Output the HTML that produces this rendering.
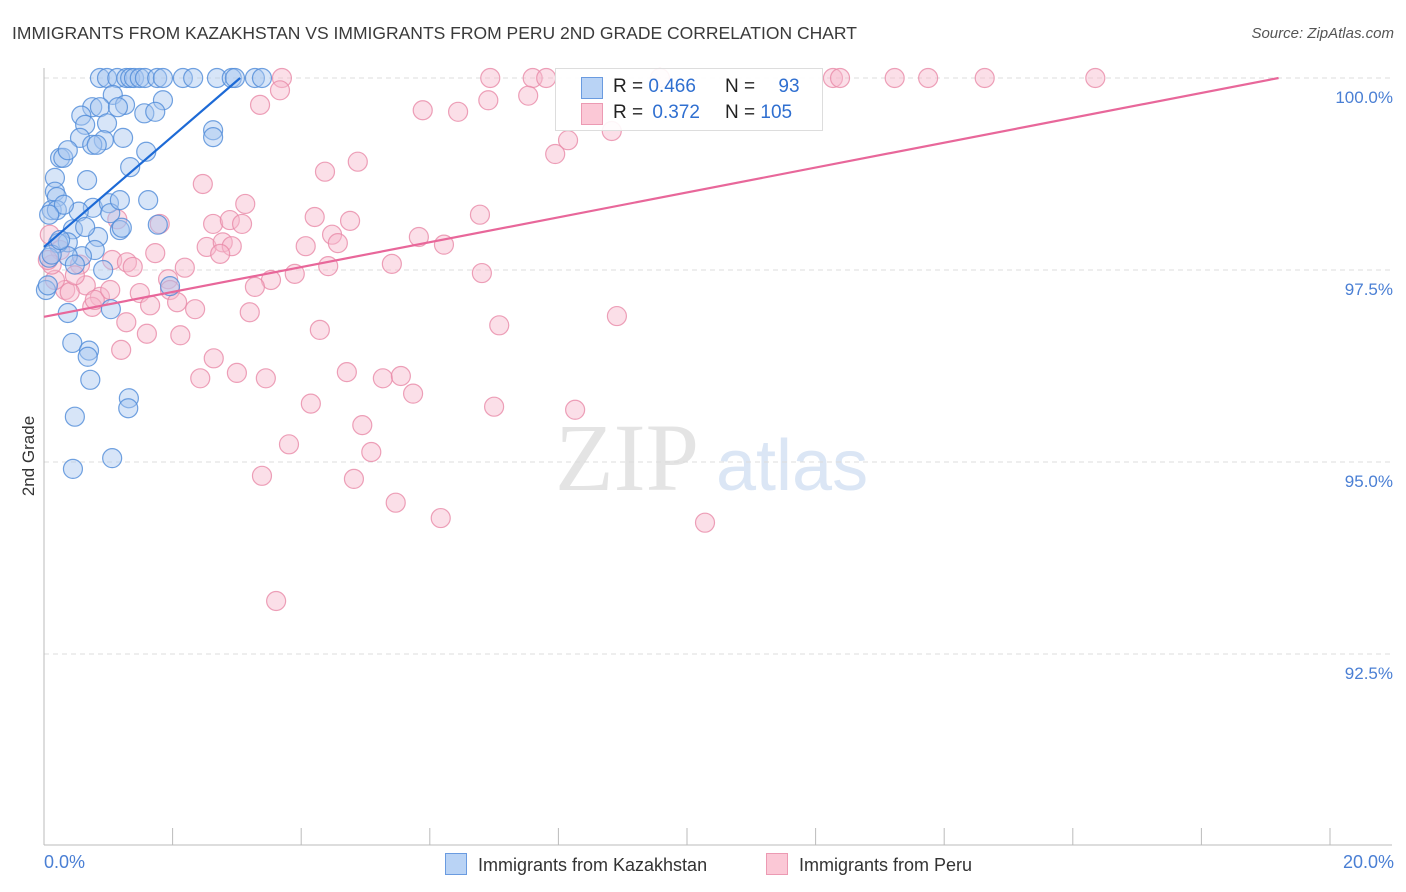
<!DOCTYPE html>
<html><head><meta charset="utf-8">
<style>
body{margin:0;background:#fff;font-family:"Liberation Sans",sans-serif;}
#wrap{position:relative;width:1406px;height:892px;overflow:hidden;}
.t{position:absolute;white-space:nowrap;}
</style></head>
<body>
<div id="wrap">
<div class="t" style="left:12px;top:23px;font-size:17.5px;color:#3a3a3a;">IMMIGRANTS FROM KAZAKHSTAN VS IMMIGRANTS FROM PERU 2ND GRADE CORRELATION CHART</div>
<div class="t" style="right:12px;top:25px;font-size:15px;color:#555;font-style:italic;">Source: ZipAtlas.com</div>
<svg id="svg" width="1406" height="892" style="position:absolute;left:0;top:0"></svg>
</div>
<script>
const xDomain=[0,20];
const yDomain=[90,100];
const yTicks=[100,97.5,95,92.5];
const yTickLabels=["100.0%","97.5%","95.0%","92.5%"];
const xTickCount=10;
const kazX=[0.87,0.98,1.14,1.28,1.34,1.40,1.49,1.57,1.76,1.85,2.16,2.32,2.69,2.92,3.28,3.39,1.07,0.75,0.87,1.26,1.15,1.85,0.58,1.56,1.73,0.64,0.98,0.56,0.93,1.23,0.75,0.82,0.25,0.30,0.37,1.59,1.34,0.67,0.17,0.17,0.20,0.76,1.62,1.01,0.54,0.12,0.20,0.31,1.03,1.18,1.21,0.84,0.45,0.64,0.37,0.22,0.79,0.59,0.37,0.08,0.12,0.48,0.92,1.04,0.37,0.44,0.70,0.68,0.72,1.32,1.31,0.48,0.45,1.06,2.63,2.63,1.77,0.03,0.06,0.08,1.96,2.97,0.25,1.18];
const kazY=[100,100,100,100,100,100,100,100,100,100,100,100,100,100,100,100,99.78,99.62,99.62,99.65,99.62,99.71,99.51,99.54,99.56,99.39,99.41,99.22,99.19,99.22,99.13,99.13,98.96,98.96,99.06,99.04,98.84,98.67,98.70,98.52,98.45,98.31,98.41,98.37,98.26,98.28,98.28,98.35,98.24,98.02,98.05,97.93,98.03,98.06,97.86,97.85,97.76,97.68,97.68,97.66,97.70,97.57,97.50,96.99,96.94,96.55,96.45,96.37,96.07,95.83,95.70,95.59,94.91,95.05,99.32,99.23,98.09,97.24,97.30,98.22,97.29,100,97.89,98.41];
const peruX=[3.70,6.94,7.60,7.81,9.58,12.27,12.38,13.23,13.75,14.63,16.35,3.67,3.36,6.91,7.53,5.89,6.44,8.83,8.15,7.95,4.88,4.37,2.47,3.13,6.78,4.21,4.76,2.63,2.89,3.08,1.80,1.14,4.48,5.83,6.22,4.07,4.57,2.53,2.78,2.92,2.74,1.73,1.06,1.29,1.38,2.19,3.53,3.90,5.41,4.42,6.81,3.28,1.93,1.96,1.49,0.65,0.33,0.40,0.87,0.75,2.35,3.20,1.65,2.07,1.28,1.60,2.12,4.29,7.08,8.91,1.20,2.64,3.00,2.43,3.45,4.71,5.27,5.55,5.74,4.15,7.00,8.26,4.95,3.81,5.09,3.39,4.82,5.47,6.17,10.28,3.61,0.09,0.25,0.56,0.17,0.48,0.12,0.06,0.79,1.03];
const peruY=[100,100,100,100,100,100,100,100,100,100,100,99.84,99.65,99.71,99.77,99.58,99.56,99.31,99.19,99.01,98.91,98.78,98.62,98.36,98.22,98.19,98.14,98.10,98.15,98.10,98.10,98.16,97.96,97.93,97.83,97.81,97.85,97.80,97.86,97.81,97.71,97.72,97.63,97.60,97.54,97.53,97.37,97.45,97.58,97.55,97.46,97.28,97.38,97.24,97.20,97.30,97.24,97.21,97.15,97.02,96.99,96.95,97.04,97.08,96.82,96.67,96.65,96.72,96.78,96.90,96.46,96.35,96.16,96.09,96.09,96.17,96.09,96.12,95.89,95.76,95.72,95.68,95.48,95.23,95.13,94.82,94.78,94.47,94.27,94.21,93.19,97.96,97.76,97.57,97.37,97.43,97.57,97.63,97.11,97.24];
const kazLine=[[0,97.8],[3.05,100]];
const peruLine=[[0,96.89],[19.2,100]];

const NS="http://www.w3.org/2000/svg";
const svg=document.getElementById('svg');
const X0=44,X1=1330,YTOP=78,YPX=76.8;
function sx(v){return X0+(v-xDomain[0])/(xDomain[1]-xDomain[0])*(X1-X0);}
function sy(v){return YTOP+(yDomain[1]-v)*YPX;}
function mk(tag,attrs){const e=document.createElementNS(NS,tag);for(const k in attrs)e.setAttribute(k,attrs[k]);svg.appendChild(e);return e;}

// watermark
let wm=mk('text',{x:555,y:490,'font-size':96,'font-family':'Liberation Serif, serif',fill:'#e4e4e4'});wm.textContent='ZIP';


let wm2=mk('text',{x:716,y:490,'font-size':72,'font-family':'Liberation Sans, sans-serif',fill:'#dbe6f5'});wm2.textContent='atlas';



yTicks.forEach((v,i)=>{
  const g=mk('line',{x1:X0,x2:1392,y1:sy(v),y2:sy(v),stroke:'#dcdcdc','stroke-dasharray':'5,4'});
  
  
  const t=mk('text',{x:1393,y:sy(v)+25,'text-anchor':'end','font-size':17,fill:'#4a7fd4','font-family':'Liberation Sans, sans-serif'});
  t.textContent=yTickLabels[i];
  
  
});
let ax=mk('line',{x1:X0,x2:X0,y1:68,y2:845,stroke:'#bbb'});


let bx=mk('line',{x1:X0,x2:1392,y1:845,y2:845,stroke:'#bbb'});


for(let i=0;i<=xTickCount;i++){
  const x=sx(xDomain[0]+i*(xDomain[1]-xDomain[0])/xTickCount);
  const tk=mk('line',{x1:x,x2:x,y1:828,y2:845,stroke:'#bbb'});
  
  
}
function dots(xs,ys,fill,stroke,name){
  xs.forEach((v,i)=>{
    const c=mk('circle',{cx:sx(v),cy:sy(ys[i]),r:9.5,fill:fill,'fill-opacity':0.45,stroke:stroke,'stroke-width':1.2,'stroke-opacity':0.8});
    
    
  });
}
dots(peruX,peruY,'#f7b9cb','#e98aa8','peru-point');
dots(kazX,kazY,'#a7c6f0','#4f8bd8','kazakhstan-point');
let l1=mk('line',{x1:sx(kazLine[0][0]),y1:sy(kazLine[0][1]),x2:sx(kazLine[1][0]),y2:sy(kazLine[1][1]),stroke:'#1d6ad6','stroke-width':2.2});


let l2=mk('line',{x1:sx(peruLine[0][0]),y1:sy(peruLine[0][1]),x2:sx(peruLine[1][0]),y2:sy(peruLine[1][1]),stroke:'#e8679a','stroke-width':2.2});



// y axis title
let yt=mk('text',{x:34,y:456,'font-size':17,fill:'#333','text-anchor':'middle',transform:'rotate(-90 34 456)','font-family':'Liberation Sans, sans-serif'});
yt.textContent='2nd Grade';


</script>
<!-- top legend -->
<div style="position:absolute;left:555px;top:68px;width:266px;height:61px;background:rgba(255,255,255,0.9);border:1px solid #ddd;font-size:19px;color:#222;">
  <div style="position:absolute;left:25px;top:8px;width:20px;height:20px;background:#b9d3f5;border:1px solid #6a9be0;"></div>
  <div class="t" style="left:57px;top:7px;">R = <span style="color:#2f6fd0">0.466</span></div>
  <div class="t" style="left:169px;top:7px;">N = <span style="color:#2f6fd0;margin-left:18px">93</span></div>
  <div style="position:absolute;left:25px;top:34px;width:20px;height:20px;background:#fbc8d6;border:1px solid #ec9ab3;"></div>
  <div class="t" style="left:57px;top:33px;">R = <span style="color:#2f6fd0;margin-left:4px">0.372</span></div>
  <div class="t" style="left:169px;top:33px;">N = <span style="color:#2f6fd0">105</span></div>
</div>
<div class="t" style="left:44px;top:852px;font-size:18px;color:#4a7fd4;">0.0%</div>
<div class="t" style="right:12px;top:852px;font-size:18px;color:#4a7fd4;">20.0%</div>
<div style="position:absolute;left:445px;top:853px;font-size:18px;color:#333;">
  <div style="position:absolute;left:0;top:0;white-space:nowrap;"><span style="display:inline-block;width:20px;height:20px;background:#b9d3f5;border:1px solid #6a9be0;vertical-align:-4px;margin-right:11px"></span>Immigrants from Kazakhstan</div>
  <div style="position:absolute;left:321px;top:0;white-space:nowrap;"><span style="display:inline-block;width:20px;height:20px;background:#fbc8d6;border:1px solid #ec9ab3;vertical-align:-4px;margin-right:11px"></span>Immigrants from Peru</div>
</div>
</body></html>
